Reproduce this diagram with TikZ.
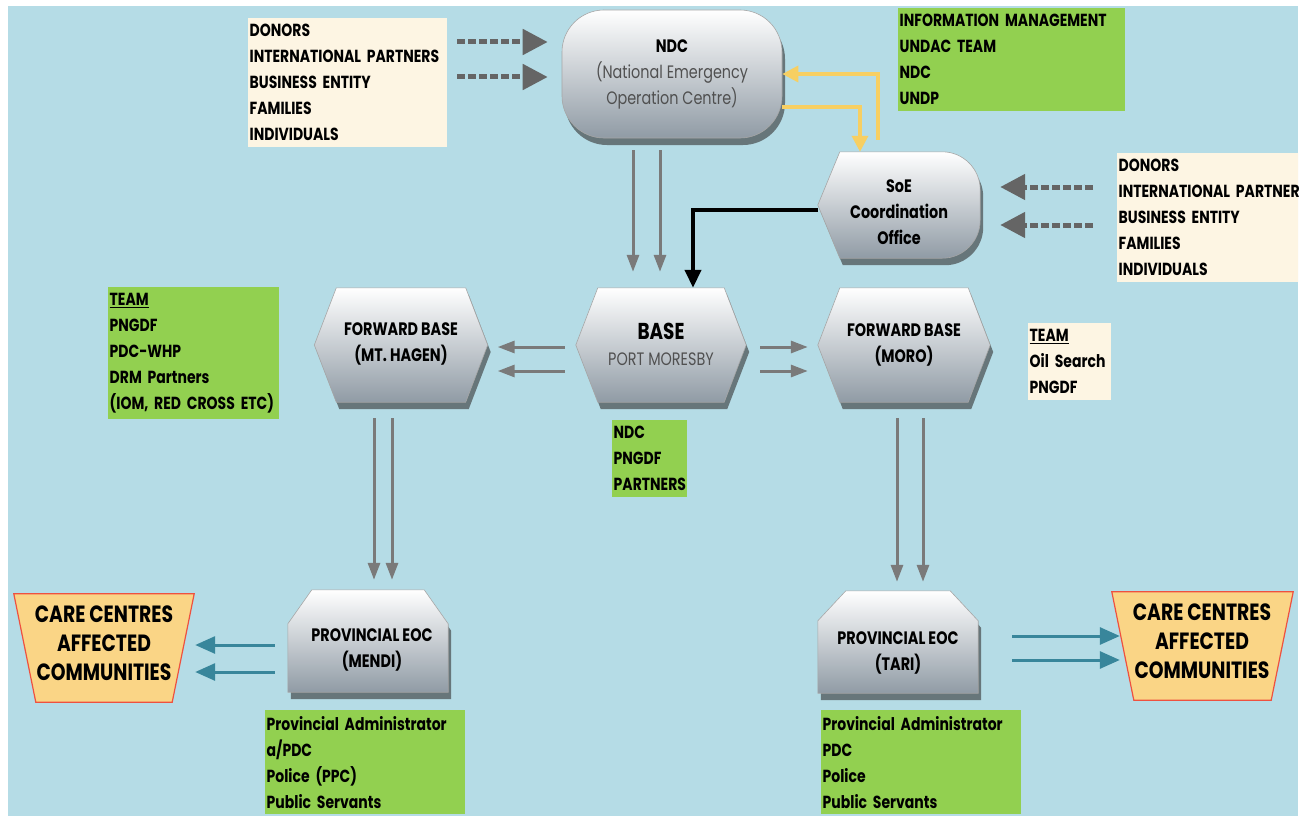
\documentclass[tikz,border=0pt]{standalone}
\usepackage{fontspec}
\setmainfont{Poppins}[FakeStretch=0.8]
\usetikzlibrary{arrows.meta,shadows,calc}
\pgfdeclarelayer{back}\pgfdeclarelayer{bg}
\pgfsetlayers{back,bg,main}
\definecolor{skyb}{HTML}{B5DCE6}
\definecolor{cream}{HTML}{FDF5E3}
\definecolor{lgreen}{HTML}{92D050}
\definecolor{agrey}{HTML}{7A7A7A}
\definecolor{dgrey}{HTML}{656565}
\definecolor{tealar}{HTML}{38869B}
\definecolor{ylw}{HTML}{F7CF62}
\definecolor{carefill}{HTML}{FAD586}
\definecolor{carered}{HTML}{EE5140}
\definecolor{nbot}{HTML}{909BA5}
\definecolor{ntext}{HTML}{505050}
\tikzset{
 listbox/.style={anchor=north west, align=left, inner xsep=1.5pt, inner ysep=6pt,
   font=\bfseries\fontsize{17.5}{26}\selectfont, text width=#1,
   execute at begin node={\hyphenpenalty=10000\exhyphenpenalty=10000}},
 cbox/.style={listbox=#1, fill=cream},
 gbox/.style={listbox=#1, fill=lgreen},
 geom/.style={draw=none, inner sep=0pt},
 shapelbl/.style={inner sep=0pt, align=center, font=\bfseries\fontsize{18}{26}\selectfont},
 carelbl/.style={inner sep=0pt, align=center, font=\bfseries\fontsize{23.5}{29}\selectfont},
 nodefill/.style={draw=gray!70, line width=0.6pt, top color=white, bottom color=nbot,
   drop shadow={shadow xshift=3pt, shadow yshift=-7pt, opacity=0.6, fill=black!80}},
 carefillst/.style={draw=carered, line width=1.2pt, fill=carefill},
 garrow/.style={draw=agrey, line width=3pt, -{Triangle[length=17pt,width=12pt]}},
 dasharrow/.style={draw=dgrey, line width=5pt, dash pattern=on 8pt off 3pt, -{Triangle[length=25pt,width=25pt]}},
 barrow/.style={draw=black, line width=4pt, -{Triangle[length=18pt,width=16pt]}},
 yarrow/.style={draw=ylw, line width=3.5pt, -{Triangle[length=16pt,width=16pt]}},
 tarrow/.style={draw=tealar, line width=3pt, -{Triangle[length=20pt,width=17pt]}},
}
\newcommand\hexpath[2]{%
 \path[nodefill] ([xshift=#2]#1.north west) -- ([xshift=-#2]#1.north east) -- (#1.east)
   -- ([xshift=-#2]#1.south east) -- ([xshift=#2]#1.south west) -- (#1.west) -- cycle;}
\newcommand\eocpath[3]{%
 \path[nodefill] ([xshift=#2]#1.north west) -- ([xshift=-#2]#1.north east) -- ([yshift=-#3]#1.north east)
   -- (#1.south east) -- (#1.south west) -- ([yshift=-#3]#1.north west) -- cycle;}
\newcommand\carepath[2]{%
 \path[carefillst] (#1.north west) -- (#1.north east) -- ([xshift=-#2]#1.south east)
   -- ([xshift=#2]#1.south west) -- cycle;}
\begin{document}
\begin{tikzpicture}[x=1pt,y=-1pt]
\useasboundingbox (0,0) rectangle (1307,816);
\begin{pgfonlayer}{back}
\fill[white] (0,0) rectangle (1307,816);
\fill[skyb] (8,6) rectangle (1298,816);
\end{pgfonlayer}
\begin{scope}
\clip (8,6) rectangle (1298,816);
% main shapes
\node[nodefill, rounded corners=42pt, minimum width=220pt, minimum height=128pt, inner sep=0pt,
  align=center, text=ntext, font=\fontsize{18}{26}\selectfont] (ndc) at (672,74)
  {{\color{black}\bfseries NDC}\\(National Emergency\\Operation Centre)};
\node[geom, minimum width=162pt, minimum height=106pt] (soe) at (899,205) {};
\node[geom, minimum width=170pt, minimum height=114pt] (base) at (661,345) {};
\node[geom, minimum width=173pt, minimum height=114pt] (hagen) at (401,345) {};
\node[geom, minimum width=172pt, minimum height=114pt] (moro) at (904,345) {};
\node[geom, minimum width=160pt, minimum height=102pt] (mendi) at (368,641) {};
\node[geom, minimum width=160pt, minimum height=102pt] (tari) at (898,642) {};
\node[geom, minimum width=180pt, minimum height=108pt] (careL) at (104,648) {};
\node[geom, minimum width=181pt, minimum height=108pt] (careR) at (1202.5,646) {};
\begin{pgfonlayer}{bg}
\path[nodefill] ([xshift=22pt]soe.north west) -- (soe.west) -- ([xshift=22pt]soe.south west)
  -- ([xshift=-38pt]soe.south east) arc[start angle=-90, end angle=0, radius=38pt]
  -- ([yshift=-38pt]soe.north east) arc[start angle=0, end angle=90, radius=38pt] -- cycle;
\hexpath{base}{22pt}
\hexpath{hagen}{22pt}
\hexpath{moro}{22pt}
\eocpath{mendi}{24pt}{34pt}
\eocpath{tari}{28pt}{30pt}
\carepath{careL}{22pt}
\carepath{careR}{22pt}
\end{pgfonlayer}
% shape labels
\node[shapelbl] (soeT) at (899,212) {SoE\\Coordination\\Office};
\node[shapelbl] (baseT) at (661,344) {{\fontsize{23}{26}\selectfont BASE}\\{\mdseries\color{ntext}PORT MORESBY}};
\node[shapelbl] (hagenT) at (401,344) {FORWARD BASE\\(MT. HAGEN)};
\node[shapelbl] (moroT) at (904,345) {FORWARD BASE\\(MORO)};
\node[shapelbl] (mendiT) at (372,650) {PROVINCIAL EOC\\(MENDI)};
\node[shapelbl] (tariT) at (898,653) {PROVINCIAL EOC\\(TARI)};
\node[carelbl] (careLT) at (104,643) {CARE CENTRES\\AFFECTED\\COMMUNITIES};
\node[carelbl] (careRT) at (1202,641) {CARE CENTRES\\AFFECTED\\COMMUNITIES};
% list boxes
\node[cbox=196pt] (crTL) at (248,18) {DONORS\\INTERNATIONAL PARTNERS\\BUSINESS ENTITY\\FAMILIES\\INDIVIDUALS};
\node[gbox=224pt] (grTR) at (898,8) {INFORMATION MANAGEMENT\\UNDAC TEAM\\NDC\\UNDP};
\node[cbox=200pt] (crR) at (1117,153) {DONORS\\INTERNATIONAL PARTNERS\\BUSINESS ENTITY\\FAMILIES\\INDIVIDUALS};
\node[gbox=168pt] (grH) at (108,287) {\underline{TEAM}\\PNGDF\\PDC-WHP\\DRM Partners\\(IOM, RED CROSS ETC)};
\node[cbox=80pt] (crM) at (1028,323) {\underline{TEAM}\\Oil Search\\PNGDF};
\node[gbox=72pt] (grB) at (612,420) {NDC\\PNGDF\\PARTNERS};
\node[gbox=197pt] (grMe) at (265,710) {Provincial Administrator\\a/PDC\\Police (PPC)\\Public Servants};
\node[gbox=197pt] (grTa) at (821,710) {Provincial Administrator\\PDC\\Police\\Public Servants};
% helper coordinates
\coordinate (n1) at ([yshift=32pt]ndc.west);
\coordinate (n2) at ([yshift=-3pt]ndc.west);
\coordinate (s1) at ([yshift=18pt]soe.east);
\coordinate (s2) at ([yshift=-20pt]soe.east);
\coordinate (y1) at ([xshift=-21pt]soe.north);
\coordinate (y2) at ([yshift=-33pt]ndc.east);
\coordinate (d1) at ([xshift=-39pt]ndc.south);
\coordinate (d2) at ([xshift=-12pt]ndc.south);
\coordinate (h1) at ([yshift=-2pt]base.west);
\coordinate (h2) at ([yshift=-26pt]base.west);
\coordinate (m1) at ([yshift=-2pt]base.east);
\coordinate (m2) at ([yshift=-26pt]base.east);
\coordinate (v1) at ([xshift=-27pt]hagen.south);
\coordinate (v2) at ([xshift=-9pt]hagen.south);
\coordinate (w1) at ([xshift=-7pt]moro.south);
\coordinate (w2) at ([xshift=19pt]moro.south);
\coordinate (c1) at ([yshift=-4pt]mendi.west);
\coordinate (c2) at ([yshift=-31pt]mendi.west);
\coordinate (t1) at ([yshift=6pt]tari.east);
\coordinate (t2) at ([yshift=-18pt]tari.east);
% connectors
\draw[dasharrow, shorten <=10pt, shorten >=14pt] (crTL.east |- n1) -- (n1);
\draw[dasharrow, shorten <=10pt, shorten >=14pt] (crTL.east |- n2) -- (n2);
\draw[dasharrow, shorten <=24pt, shorten >=20pt] (crR.west |- s1) -- (s1);
\draw[dasharrow, shorten <=24pt, shorten >=20pt] (crR.west |- s2) -- (s2);
\draw[yarrow] ([yshift=12pt]y1) |- (ndc.east);
\draw[yarrow] (y2) -| ([xshift=-39pt]soe.north);
\draw[garrow, shorten <=12pt, shorten >=16pt] (d1) -- (d1 |- base.north);
\draw[garrow, shorten <=12pt, shorten >=16pt] (d2) -- (d2 |- base.north);
\draw[barrow] ([yshift=-5pt]soe.west) -| ([xshift=32pt]base.north);
\draw[garrow, shorten <=11pt, shorten >=10pt] (h1) -- (h1 -| hagen.east);
\draw[garrow, shorten <=11pt, shorten >=10pt] (h2) -- (h2 -| hagen.east);
\draw[garrow, shorten <=14pt, shorten >=10pt] (m1) -- (m1 -| moro.west);
\draw[garrow, shorten <=14pt, shorten >=10pt] (m2) -- (m2 -| moro.west);
\draw[garrow, shorten <=16pt, shorten >=10pt] (v1) -- (v1 |- mendi.north);
\draw[garrow, shorten <=16pt, shorten >=10pt] (v2) -- (v2 |- mendi.north);
\draw[garrow, shorten <=16pt, shorten >=9pt] (w1) -- (w1 |- tari.north);
\draw[garrow, shorten <=16pt, shorten >=9pt] (w2) -- (w2 |- tari.north);
\draw[tarrow, shorten <=13pt, shorten >=1pt] (c1) -- (c1 -| careL.east);
\draw[tarrow, shorten <=13pt, shorten >=1pt] (c2) -- (c2 -| careL.east);
\draw[tarrow, shorten <=34pt, shorten >=-8pt] (t1) -- (t1 -| careR.west);
\draw[tarrow, shorten <=34pt, shorten >=-8pt] (t2) -- (t2 -| careR.west);
\end{scope}
\end{tikzpicture}
\end{document}
